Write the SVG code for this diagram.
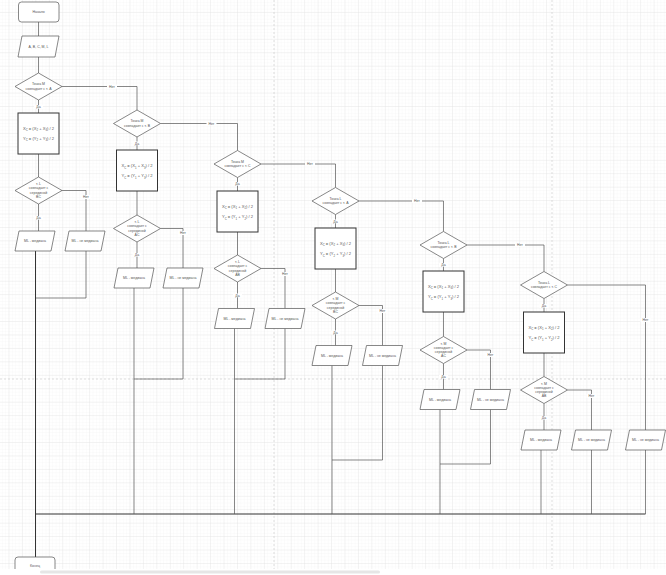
<svg xmlns="http://www.w3.org/2000/svg" width="666" height="575" viewBox="0 0 666 575">
<defs>
<pattern id="gmin" width="3.36" height="3.36" patternUnits="userSpaceOnUse" x="-4" y="-14"><path d="M3.36 0V3.36H0" fill="none" stroke="#f0f0f0" stroke-width="0.5"/></pattern>
<pattern id="gmaj" width="13.44" height="13.44" patternUnits="userSpaceOnUse" x="-4" y="-14"><path d="M13.44 0V13.44H0" fill="none" stroke="#dedede" stroke-width="0.6"/></pattern>
<style>
.n{fill:#fff;stroke:#555;stroke-width:0.7}
.r{fill:#fff;stroke:#333;stroke-width:1}
.c{fill:none;stroke:#555;stroke-width:0.7}
.cm{fill:none;stroke:#333;stroke-width:1}
.pb{fill:none;stroke:#c8c8c8;stroke-width:0.6;stroke-dasharray:2 2}
text{font-family:"Liberation Sans",Arial,sans-serif;font-size:3.5px;fill:#555;text-anchor:middle;dominant-baseline:central}
.f{font-size:4.1px}
.lb{fill:#fff}
.s{font-size:2.8px}
</style>
</defs>
<rect width="666" height="575" fill="#fff"/>
<rect width="666" height="575" fill="url(#gmin)"/>
<rect width="666" height="575" fill="url(#gmaj)"/>
<path class="pb" d="M274 0V569M552 0V569M0 379H666"/>

<g id="connectors">
<path class="c" d="M38.5 22V36M38.5 57V73M38.5 100V113M38.5 154V177M38.5 204V231"/>
<path class="c" d="M62 86.5H137V110M62 190.5H86V231M86 251V298H35.5"/>
<path class="cm" d="M35.5 251V557M35.5 514H645.5"/>
<path class="c" d="M137 137V150M137 191V215M137 242V268M160.5 123.5H237.5V150.5M160.5 228.5H183V268M134 288V514M183 288V379H134"/>
<path class="c" d="M237.5 177.5V191M237.5 232V255M237.5 282V308.5M261 164H335.5V187.5M261 268.5H285V308.5M234.5 328.5V514M285 328.5V379H234.5"/>
<path class="c" d="M335.5 214.5V228M335.5 269V292M335.5 319V345.5M359 201H443.5V231.5M359 305.5H382.5V345.5M332 365.5V514M382.5 365.5V460H332"/>
<path class="c" d="M443.5 258.5V271M443.5 312V336.5M443.5 363.5V389.5M467 245H544V271.5M467 350H490.5V389.5M440 409.5V514M490.5 409.5V464H440"/>
<path class="c" d="M544 298.5V312M544 353V376.5M544 403.5V430M567.5 285H645.5V430M567.5 390H591.5V430M541 450V514M591.5 450V514M645.5 450V514"/>
<g>
<rect class="lb" x="34" y="105" width="9" height="4"/><text x="38.5" y="107">Да</text>
<rect class="lb" x="107" y="84.5" width="10" height="4"/><text x="112" y="86.5">Нет</text>
<rect class="lb" x="34" y="216" width="9" height="4"/><text x="38.5" y="218">Да</text>
<rect class="lb" x="81" y="195" width="10" height="4"/><text x="86" y="197">Нет</text>
<rect class="lb" x="132.5" y="141.5" width="9" height="4"/><text x="137" y="143.5">Да</text>
<rect class="lb" x="206.5" y="121.5" width="10" height="4"/><text x="211.5" y="123.5">Нет</text>
<rect class="lb" x="132.5" y="253" width="9" height="4"/><text x="137" y="255">Да</text>
<rect class="lb" x="178" y="231" width="10" height="4"/><text x="183" y="233">Нет</text>
<rect class="lb" x="233" y="182" width="9" height="4"/><text x="237.5" y="184">Да</text>
<rect class="lb" x="305" y="162" width="10" height="4"/><text x="310" y="164">Нет</text>
<rect class="lb" x="233" y="293.5" width="9" height="4"/><text x="237.5" y="295.5">Да</text>
<rect class="lb" x="280" y="272" width="10" height="4"/><text x="285" y="274">Нет</text>
<rect class="lb" x="331" y="219.5" width="9" height="4"/><text x="335.5" y="221.5">Да</text>
<rect class="lb" x="412" y="199" width="10" height="4"/><text x="417" y="201">Нет</text>
<rect class="lb" x="331" y="330.5" width="9" height="4"/><text x="335.5" y="332.5">Да</text>
<rect class="lb" x="377.5" y="309" width="10" height="4"/><text x="382.5" y="311">Нет</text>
<rect class="lb" x="439" y="263" width="9" height="4"/><text x="443.5" y="265">Да</text>
<rect class="lb" x="515" y="243" width="10" height="4"/><text x="520" y="245">Нет</text>
<rect class="lb" x="439" y="375" width="9" height="4"/><text x="443.5" y="377">Да</text>
<rect class="lb" x="485.5" y="353" width="10" height="4"/><text x="490.5" y="355">Нет</text>
<rect class="lb" x="539.5" y="304" width="9" height="4"/><text x="544" y="306">Да</text>
<rect class="lb" x="640.5" y="318" width="10" height="4"/><text x="645.5" y="320">Нет</text>
<rect class="lb" x="539.5" y="416" width="9" height="4"/><text x="544" y="418">Да</text>
<rect class="lb" x="586.5" y="394" width="10" height="4"/><text x="591.5" y="396">Нет</text>
</g>
</g>

<g id="start"><rect class="n" x="18.5" y="2" width="40.5" height="20" rx="3"/><text x="38.7" y="12">Начало</text></g>
<g id="input"><polygon class="n" points="22,36 59,36 55,57 18,57"/><text x="38.5" y="46.5">A, B, C, M, L</text></g>

<g id="d1"><polygon class="n" points="38.5,73 62,86.5 38.5,100 15,86.5"/><text x="38.5" y="84.3">Точка M</text><text x="38.5" y="88.8">совпадает с т. A</text></g>
<g id="r1"><rect class="r" x="18" y="113" width="41" height="41"/><text class="f" x="38.5" y="128">X<tspan class="s" baseline-shift="sub">C</tspan> = (X<tspan class="s" baseline-shift="sub">2</tspan> + X<tspan class="s" baseline-shift="sub">3</tspan>) / 2</text><text class="f" x="38.5" y="138">Y<tspan class="s" baseline-shift="sub">C</tspan> = (Y<tspan class="s" baseline-shift="sub">2</tspan> + Y<tspan class="s" baseline-shift="sub">3</tspan>) / 2</text></g>
<g id="d1b"><polygon class="n" points="38.5,177 62,190.5 38.5,204 15,190.5"/><text x="38.5" y="184">т. L</text><text x="38.5" y="188.3">совпадает с</text><text x="38.5" y="192.6">серединой</text><text x="38.5" y="196.9">BC</text></g>
<g id="p1a"><polygon class="n" points="19,231 55,231 51,251 15,251"/><text x="35" y="241">ML - медиана</text></g>
<g id="p1b"><polygon class="n" points="69,231 105,231 101,251 65,251"/><text x="85" y="241">ML - не медиана</text></g>

<g id="d2"><polygon class="n" points="137,110 160.5,123.5 137,137 113.5,123.5"/><text x="137" y="121.3">Точка M</text><text x="137" y="125.8">совпадает с т. B</text></g>
<g id="r2"><rect class="r" x="116.5" y="150" width="41" height="41"/><text class="f" x="137" y="165.5">X<tspan class="s" baseline-shift="sub">C</tspan> = (X<tspan class="s" baseline-shift="sub">1</tspan> + X<tspan class="s" baseline-shift="sub">3</tspan>) / 2</text><text class="f" x="137" y="175.5">Y<tspan class="s" baseline-shift="sub">C</tspan> = (Y<tspan class="s" baseline-shift="sub">1</tspan> + Y<tspan class="s" baseline-shift="sub">3</tspan>) / 2</text></g>
<g id="d2b"><polygon class="n" points="137,215 160.5,228.5 137,242 113.5,228.5"/><text x="137" y="222">т. L</text><text x="137" y="226.3">совпадает с</text><text x="137" y="230.6">серединой</text><text x="137" y="234.9">AC</text></g>
<g id="p2a"><polygon class="n" points="118,268 154,268 150,288 114,288"/><text x="134" y="278">ML - медиана</text></g>
<g id="p2b"><polygon class="n" points="167,268 203,268 199,288 163,288"/><text x="183" y="278">ML - не медиана</text></g>

<g id="d3"><polygon class="n" points="237.5,150.5 261,164 237.5,177.5 214,164"/><text x="237.5" y="161.8">Точка M</text><text x="237.5" y="166.3">совпадает с т. C</text></g>
<g id="r3"><rect class="r" x="217" y="191" width="41" height="41"/><text class="f" x="237.5" y="206">X<tspan class="s" baseline-shift="sub">C</tspan> = (X<tspan class="s" baseline-shift="sub">1</tspan> + X<tspan class="s" baseline-shift="sub">2</tspan>) / 2</text><text class="f" x="237.5" y="216.5">Y<tspan class="s" baseline-shift="sub">C</tspan> = (Y<tspan class="s" baseline-shift="sub">1</tspan> + Y<tspan class="s" baseline-shift="sub">2</tspan>) / 2</text></g>
<g id="d3b"><polygon class="n" points="237.5,255 261,268.5 237.5,282 214,268.5"/><text x="237.5" y="262">т. L</text><text x="237.5" y="266.3">совпадает с</text><text x="237.5" y="270.6">серединой</text><text x="237.5" y="274.9">AB</text></g>
<g id="p3a"><polygon class="n" points="218.5,308.5 254.5,308.5 250.5,328.5 214.5,328.5"/><text x="234.5" y="318.5">ML - медиана</text></g>
<g id="p3b"><polygon class="n" points="269,308.5 305,308.5 301,328.5 265,328.5"/><text x="285" y="318.5">ML - не медиана</text></g>

<g id="d4"><polygon class="n" points="335.5,187.5 359,201 335.5,214.5 312,201"/><text x="335.5" y="198.8">Точка L</text><text x="335.5" y="203.3">совпадает с т. A</text></g>
<g id="r4"><rect class="r" x="315" y="228" width="41" height="41"/><text class="f" x="335.5" y="243">X<tspan class="s" baseline-shift="sub">C</tspan> = (X<tspan class="s" baseline-shift="sub">2</tspan> + X<tspan class="s" baseline-shift="sub">3</tspan>) / 2</text><text class="f" x="335.5" y="253.5">Y<tspan class="s" baseline-shift="sub">C</tspan> = (Y<tspan class="s" baseline-shift="sub">2</tspan> + Y<tspan class="s" baseline-shift="sub">3</tspan>) / 2</text></g>
<g id="d4b"><polygon class="n" points="335.5,292 359,305.5 335.5,319 312,305.5"/><text x="335.5" y="299">т. M</text><text x="335.5" y="303.3">совпадает с</text><text x="335.5" y="307.6">серединой</text><text x="335.5" y="311.9">BC</text></g>
<g id="p4a"><polygon class="n" points="316,345.5 352,345.5 348,365.5 312,365.5"/><text x="332" y="355.5">ML - медиана</text></g>
<g id="p4b"><polygon class="n" points="366.5,345.5 402.5,345.5 398.5,365.5 362.5,365.5"/><text x="382.5" y="355.5">ML - не медиана</text></g>

<g id="d5"><polygon class="n" points="443.5,231.5 467,245 443.5,258.5 420,245"/><text x="443.5" y="242.8">Точка L</text><text x="443.5" y="247.3">совпадает с т. B</text></g>
<g id="r5"><rect class="r" x="423" y="271" width="41" height="41"/><text class="f" x="443.5" y="286">X<tspan class="s" baseline-shift="sub">C</tspan> = (X<tspan class="s" baseline-shift="sub">1</tspan> + X<tspan class="s" baseline-shift="sub">3</tspan>) / 2</text><text class="f" x="443.5" y="296.5">Y<tspan class="s" baseline-shift="sub">C</tspan> = (Y<tspan class="s" baseline-shift="sub">1</tspan> + Y<tspan class="s" baseline-shift="sub">3</tspan>) / 2</text></g>
<g id="d5b"><polygon class="n" points="443.5,336.5 467,350 443.5,363.5 420,350"/><text x="443.5" y="343.5">т. M</text><text x="443.5" y="347.8">совпадает с</text><text x="443.5" y="352.1">серединой</text><text x="443.5" y="356.4">AC</text></g>
<g id="p5a"><polygon class="n" points="424,389.5 460,389.5 456,409.5 420,409.5"/><text x="440" y="399.5">ML - медиана</text></g>
<g id="p5b"><polygon class="n" points="474.5,389.5 510.5,389.5 506.5,409.5 470.5,409.5"/><text x="490.5" y="399.5">ML - не медиана</text></g>

<g id="d6"><polygon class="n" points="544,271.5 567.5,285 544,298.5 520.5,285"/><text x="544" y="282.8">Точка L</text><text x="544" y="287.3">совпадает с т. C</text></g>
<g id="r6"><rect class="r" x="523.5" y="312" width="41" height="41"/><text class="f" x="544" y="327">X<tspan class="s" baseline-shift="sub">C</tspan> = (X<tspan class="s" baseline-shift="sub">1</tspan> + X<tspan class="s" baseline-shift="sub">2</tspan>) / 2</text><text class="f" x="544" y="337.5">Y<tspan class="s" baseline-shift="sub">C</tspan> = (Y<tspan class="s" baseline-shift="sub">1</tspan> + Y<tspan class="s" baseline-shift="sub">2</tspan>) / 2</text></g>
<g id="d6b"><polygon class="n" points="544,376.5 567.5,390 544,403.5 520.5,390"/><text x="544" y="383.5">т. M</text><text x="544" y="387.8">совпадает с</text><text x="544" y="392.1">серединой</text><text x="544" y="396.4">AB</text></g>
<g id="p6a"><polygon class="n" points="525,430 561,430 557,450 521,450"/><text x="541" y="440">ML - медиана</text></g>
<g id="p6b"><polygon class="n" points="575.5,430 611.5,430 607.5,450 571.5,450"/><text x="591.5" y="440">ML - не медиана</text></g>
<g id="p6c"><polygon class="n" points="629.5,430 665.5,430 661.5,450 625.5,450"/><text x="645.5" y="440">ML - не медиана</text></g>

<g id="end"><rect class="n" x="15" y="557" width="40" height="20" rx="3"/><text x="35" y="566">Конец</text></g>

<rect x="0" y="569" width="666" height="6" fill="#fff"/>
<rect x="40" y="570.5" width="340" height="3" rx="1.5" fill="#e6e6e6"/>
</svg>
